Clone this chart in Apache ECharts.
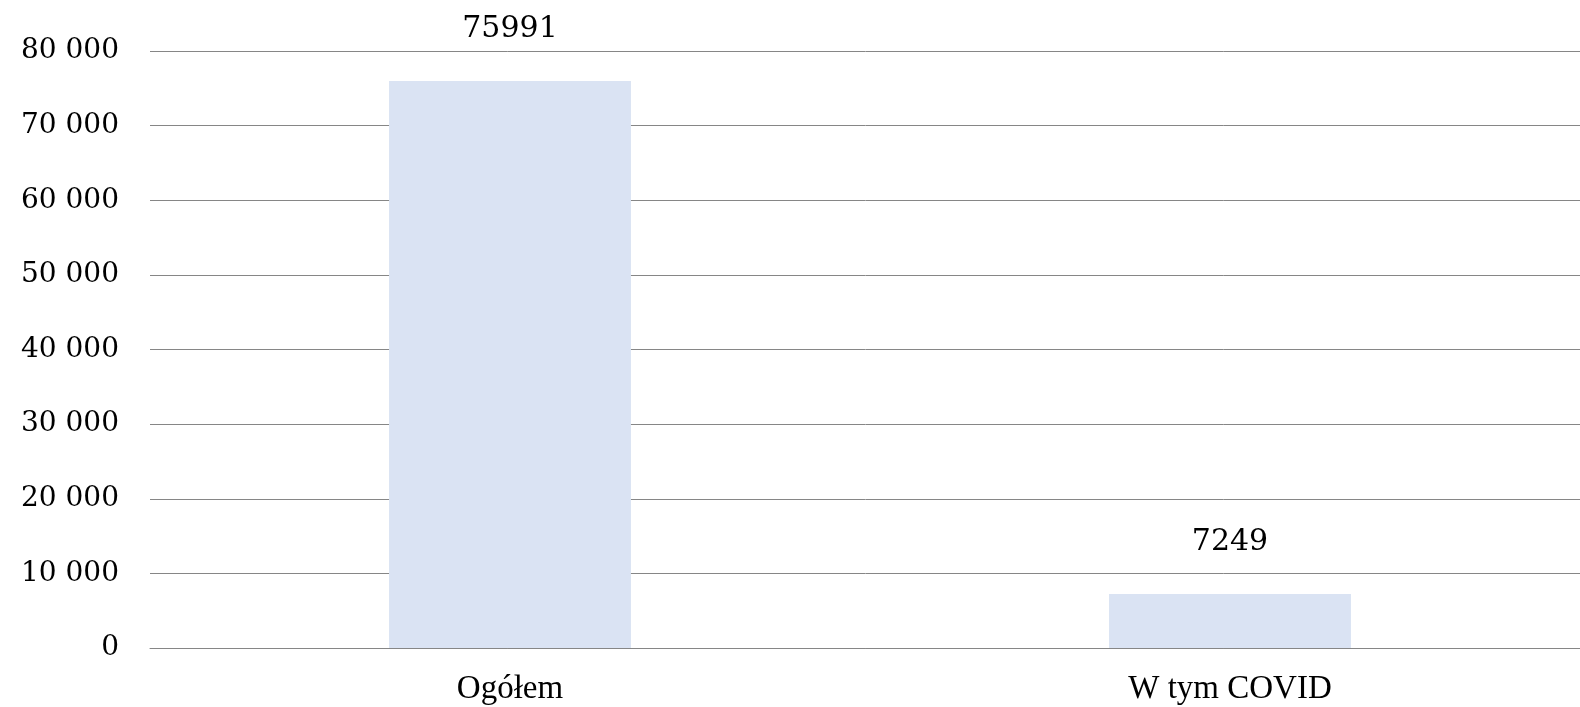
<!DOCTYPE html>
<html lang="pl">
<head>
    <meta charset="UTF-8">
    <title>Ogółem / W tym COVID</title>
    <script src="https://cdn.jsdelivr.net/npm/echarts@6/dist/echarts.min.js"></script>
    <style>
        html, body { margin: 0; padding: 0; background: #fff; }
    </style>
</head>
<body>
<div id="container" style="width:1580px;height:707px;"></div>
<script>
    var categories = ['Ogółem', 'W tym COVID'];
    var values = [75991, 7249];
    var yMin = 0, yMax = 80000, yStep = 10000;

    // separator tysięcy: spacja
    function spaced(v) {
        return String(v).replace(/\B(?=(\d{3})+(?!\d))/g, ' ');
    }

    var myChart = echarts.init(document.getElementById('container'));

    myChart.setOption({
        backgroundColor: '#ffffff',
        animation: false,
        grid: {
            left: 150,
            right: -10,
            top: 51,
            bottom: 59,
            containLabel: false,
            outerBoundsMode: 'none'
        },
        xAxis: {
            type: 'category',
            data: categories,
            axisLine: { show: true, lineStyle: { color: '#868686', width: 1 } },
            axisTick: { show: false },
            axisLabel: {
                margin: 25,
                color: '#000',
                fontFamily: 'Liberation Serif',
                fontSize: 33
            }
        },
        yAxis: {
            type: 'value',
            min: yMin,
            max: yMax,
            interval: yStep,
            axisLine: { show: false },
            axisTick: { show: false },
            splitLine: { lineStyle: { color: '#868686', width: 1 } },
            axisLabel: {
                margin: 31,
                color: '#000',
                fontFamily: 'DejaVu Serif',
                fontSize: 28,
                formatter: spaced
            }
        },
        series: [{
            type: 'bar',
            data: values,
            barWidth: '33.6%',
            itemStyle: { color: '#dae3f3' },
            label: {
                show: true,
                position: 'top',
                distance: 37,
                color: '#000',
                fontFamily: 'DejaVu Serif',
                fontSize: 30
            }
        }]
    });
</script>
</body>
</html>
